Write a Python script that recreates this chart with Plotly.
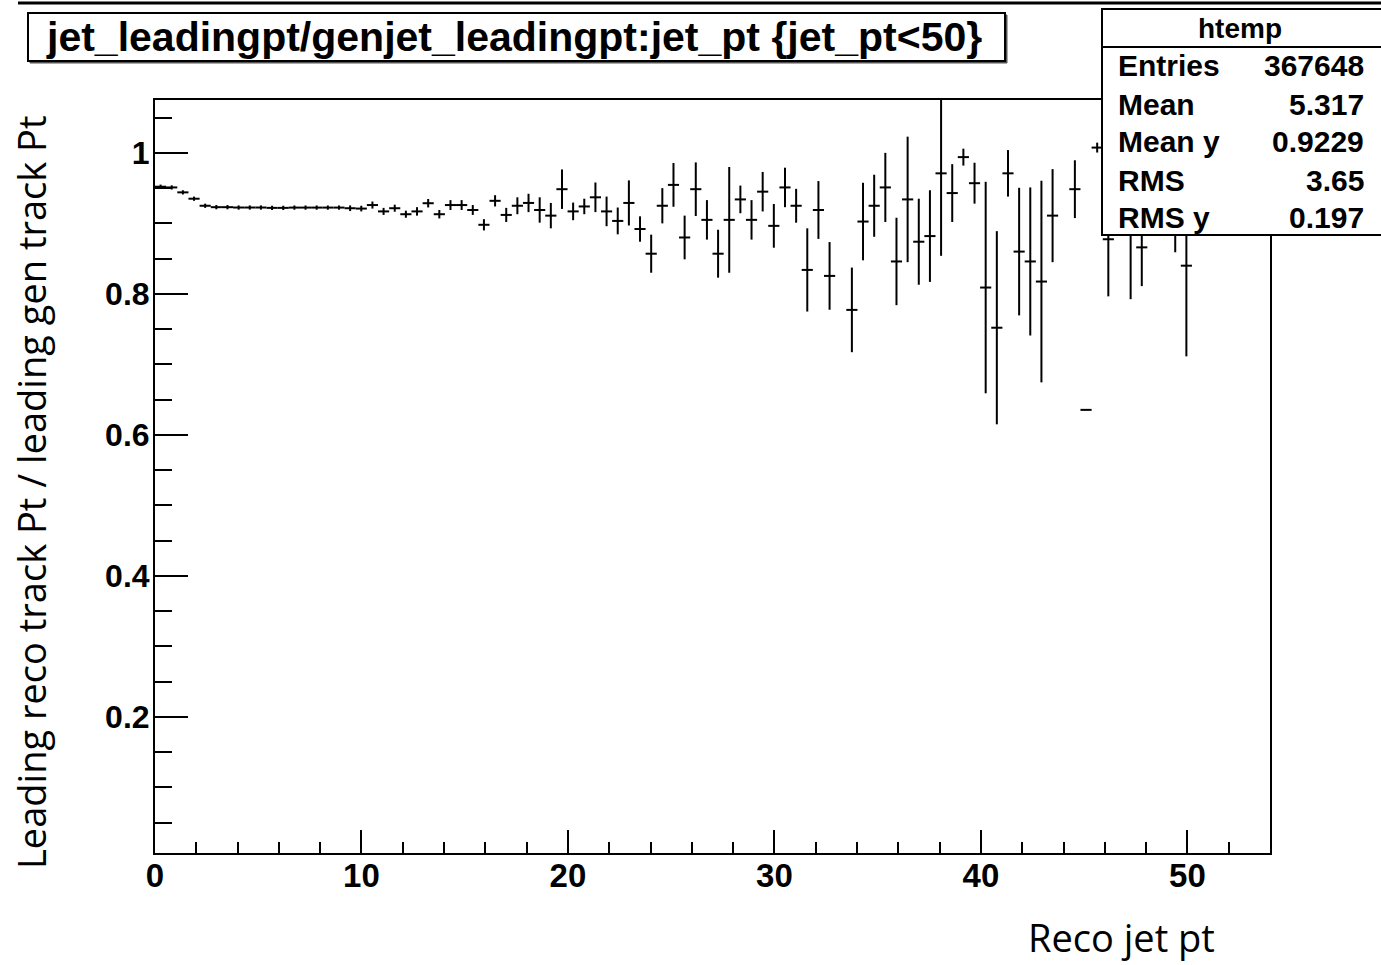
import plotly.graph_objects as go

# ---------------- data (TProfile "htemp": 100 bins, 0 .. 54) ----------------
BIN_WIDTH = 0.54
bin_index = list(range(93))
ratio = [
    0.952, 0.951, 0.944, 0.935, 0.925, 0.923, 0.923, 0.9225, 0.9225, 0.9225,
    0.922, 0.922, 0.9224, 0.9224, 0.9224, 0.9224, 0.9224, 0.9215, 0.921, 0.926,
    0.917, 0.9215, 0.913, 0.917, 0.9286, 0.913, 0.926, 0.926, 0.919, 0.898,
    0.932, 0.912, 0.925, 0.929, 0.919, 0.911, 0.9485, 0.917, 0.924, 0.937,
    0.917, 0.9035, 0.929, 0.892, 0.857, 0.925, 0.9546, 0.880, 0.9485, 0.905,
    0.857, 0.905, 0.934, 0.905, 0.945, 0.8965, 0.951, 0.925, 0.834, 0.919,
    0.8255, None, 0.7773, 0.9026, 0.925, 0.951, 0.846, 0.934, 0.874, 0.882,
    0.971, 0.943, 0.994, 0.957, 0.809, 0.752, 0.971, 0.860, 0.846, 0.8175,
    0.911, None, 0.9485, 0.6355, 1.0075, 0.8775, None, 0.93, 0.866, None,
    None, 0.93, 0.840,
]
ratio_err = [
    0.003, 0.003, 0.003, 0.003, 0.003, 0.003, 0.003, 0.003, 0.003, 0.003,
    0.003, 0.003, 0.003, 0.003, 0.003, 0.003, 0.003, 0.004, 0.004, 0.005,
    0.005, 0.005, 0.005, 0.006, 0.006, 0.006, 0.007, 0.007, 0.007, 0.008,
    0.008, 0.010, 0.012, 0.013, 0.018, 0.018, 0.028, 0.0125, 0.011, 0.021,
    0.021, 0.019, 0.032, 0.018, 0.027, 0.025, 0.031, 0.031, 0.038, 0.028,
    0.034, 0.075, 0.0196, 0.028, 0.028, 0.031, 0.028, 0.024, 0.059, 0.041,
    0.048, None, 0.060, 0.055, 0.044, 0.049, 0.062, 0.089, 0.061, 0.065,
    0.117, 0.041, 0.012, 0.029, 0.150, 0.137, 0.033, 0.0905, 0.105, 0.143,
    0.066, None, 0.041, 0.0, 0.007, 0.081, None, 0.1375, 0.055, None,
    None, 0.071, 0.1286,
]

x_ticks = [0, 10, 20, 30, 40, 50]
y_ticks = [0.2, 0.4, 0.6, 0.8, 1.0]
y_tick_text = ["0.2", "0.4", "0.6", "0.8", "1"]

title_text = "jet_leadingpt/genjet_leadingpt:jet_pt {jet_pt<50}"
stats_name = "htemp"
stats_labels = ["Entries", "Mean", "Mean y", "RMS", "RMS y"]
stats_values = ["367648", "5.317", "0.9229", "3.65", "0.197"]
x_title = "Reco jet pt"
y_title = "Leading reco track Pt / leading gen track Pt"

# ---------------- build points ----------------
xs, ys, es = [], [], []
for i, v, e in zip(bin_index, ratio, ratio_err):
    if v is None:
        continue
    xs.append((i + 0.5) * BIN_WIDTH)
    ys.append(v)
    es.append(e)

# ---------------- layout geometry (pixels) ----------------
W_PX, H_PX = 1381, 965
L, R, T, B = 155, 1270, 100, 853


def xp(px):
    return (px - L) / (R - L)


def yp(py):
    return (B - py) / (B - T)


BOLD = dict(family="Liberation Sans, Arial, sans-serif", color="black", weight="bold")

fig = go.Figure()
fig.add_trace(go.Scatter(
    x=xs, y=ys, mode="markers",
    marker=dict(size=1, color="black"),
    error_y=dict(type="data", array=es, symmetric=True, color="black",
                 thickness=2, width=0),
    error_x=dict(type="constant", value=BIN_WIDTH / 2, color="black",
                 thickness=2, width=0),
    showlegend=False, hoverinfo="x+y",
))

shapes = []
annotations = []

# top canvas line
shapes.append(dict(type="line", xref="paper", yref="paper",
                   x0=xp(18), x1=xp(1385), y0=yp(3), y1=yp(3),
                   line=dict(color="black", width=3), layer="above"))

# title box (with small shadow)
shapes.append(dict(type="rect", xref="paper", yref="paper",
                   x0=xp(30), x1=xp(1007), y0=yp(63), y1=yp(15),
                   line=dict(color="#555555", width=1), fillcolor="#555555", layer="above"))
shapes.append(dict(type="rect", xref="paper", yref="paper",
                   x0=xp(28), x1=xp(1005), y0=yp(61), y1=yp(13),
                   line=dict(color="black", width=2), fillcolor="white", layer="above"))
annotations.append(dict(text=title_text, xref="paper", yref="paper",
                        x=xp(514), y=yp(37), xanchor="center", yanchor="middle",
                        showarrow=False, font=dict(size=41, **BOLD)))

# stats box
shapes.append(dict(type="rect", xref="paper", yref="paper",
                   x0=xp(1102), x1=xp(1390), y0=yp(235), y1=yp(9),
                   line=dict(color="black", width=2), fillcolor="white", layer="above"))
shapes.append(dict(type="line", xref="paper", yref="paper",
                   x0=xp(1102), x1=xp(1390), y0=yp(47), y1=yp(47),
                   line=dict(color="black", width=2), layer="above"))
annotations.append(dict(text=stats_name, xref="paper", yref="paper",
                        x=xp(1240), y=yp(28), xanchor="center", yanchor="middle",
                        showarrow=False, font=dict(size=28, **BOLD)))
row_y = [65, 104, 142, 180, 217]
for lab, val, ry in zip(stats_labels, stats_values, row_y):
    annotations.append(dict(text=lab, xref="paper", yref="paper",
                            x=xp(1116), y=yp(ry), xanchor="left", yanchor="middle",
                            showarrow=False, font=dict(size=30, **BOLD)))
    annotations.append(dict(text=val, xref="paper", yref="paper",
                            x=xp(1366), y=yp(ry), xanchor="right", yanchor="middle",
                            showarrow=False, font=dict(size=30, **BOLD)))

# axis titles
annotations.append(dict(text=x_title, xref="paper", yref="paper",
                        x=xp(1121), y=yp(937), xanchor="center", yanchor="middle",
                        showarrow=False, borderpad=0,
                        font=dict(family="Open Sans, sans-serif", size=38, color="black")))
annotations.append(dict(text=y_title, xref="paper", yref="paper",
                        x=xp(31), y=yp(492), xanchor="center", yanchor="middle",
                        textangle=-90, showarrow=False, borderpad=0,
                        font=dict(family="Open Sans, sans-serif", size=38, color="black")))

fig.update_layout(
    width=W_PX, height=H_PX,
    margin=dict(l=L, r=W_PX - R, t=T, b=H_PX - B, pad=0),
    plot_bgcolor="white", paper_bgcolor="white",
    shapes=shapes, annotations=annotations,
    showlegend=False,
)
fig.update_xaxes(
    range=[0, 54], tickvals=x_ticks, ticks="inside", ticklen=23, tickwidth=2,
    tickcolor="black", showline=True, linewidth=2, linecolor="black", mirror=True,
    showgrid=False, zeroline=False, ticklabelstandoff=-8,
    tickfont=dict(size=33, **BOLD),
    minor=dict(ticks="inside", dtick=2, tick0=0, ticklen=11, tickwidth=2,
               tickcolor="black", showgrid=False),
)
fig.update_yaxes(
    range=[0.007, 1.075], tickvals=y_ticks, ticktext=y_tick_text, ticks="inside",
    ticklen=33, tickwidth=2, tickcolor="black", showline=True, linewidth=2,
    linecolor="black", mirror=True, showgrid=False, zeroline=False,
    ticklabelstandoff=-3,
    tickfont=dict(size=32, **BOLD),
    minor=dict(ticks="inside", dtick=0.05, tick0=0, ticklen=17, tickwidth=2,
               tickcolor="black", showgrid=False),
)

fig.write_html("out.html")
